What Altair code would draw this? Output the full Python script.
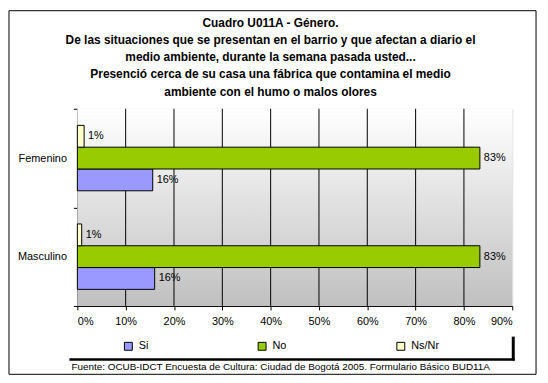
import altair as alt
import pandas as pd

categories = ["Femenino", "Masculino"]
series = ["Si", "No", "Ns/Nr"]
si_values = [0.156, 0.160]
no_values = [0.833, 0.833]
nsnr_values = [0.014, 0.009]
series_colors = ["#9999ff", "#99cc00", "#ffffcc"]
x_ticks = [0, 0.1, 0.2, 0.3, 0.4, 0.5, 0.6, 0.7, 0.8, 0.9]
title_lines = [
    "Cuadro U011A - Género.",
    "De las situaciones que se presentan en el barrio y que afectan a diario el",
    "medio ambiente, durante la semana pasada usted...",
    "Presenció cerca de su casa una fábrica que contamina el medio",
    "ambiente con el humo o malos olores",
]
footer = "Fuente: OCUB-IDCT Encuesta de Cultura: Ciudad de Bogotá 2005. Formulario Básico BUD11A"

rows = []
for i, c in enumerate(categories):
    rows.append({"cat": c, "serie": "Si", "val": si_values[i]})
    rows.append({"cat": c, "serie": "No", "val": no_values[i]})
    rows.append({"cat": c, "serie": "Ns/Nr", "val": nsnr_values[i]})
df = pd.DataFrame(rows)

FONT = "Liberation Sans"
W, H = 439, 199
xscale = alt.Scale(domain=[0, 0.9], nice=False)

one = pd.DataFrame({"a": [0]})
deco = alt.Chart(one)

background = deco.mark_rect(
    color=alt.LinearGradient(gradient="linear", x1=0, y1=0, x2=0, y2=1,
                             stops=[alt.GradientStop(color="#ffffff", offset=0),
                                    alt.GradientStop(color="#c0c0c0", offset=1)])
).encode(x=alt.value(0), x2=alt.value(W), y=alt.value(0), y2=alt.value(H))

grid = alt.Chart(pd.DataFrame({"t": x_ticks[1:-1]})).mark_rule(
    color="black", strokeWidth=1).encode(
    x=alt.X("t:Q", scale=xscale), y=alt.value(0), y2=alt.value(H))

base = alt.Chart(df)

bars = base.mark_bar(stroke="black", strokeWidth=1).encode(
    x=alt.X("val:Q", scale=xscale,
            axis=alt.Axis(values=x_ticks, format=".0%", title=None, grid=False,
                          domainColor="black",
                          tickColor="black", tickSize=4, labelPadding=6,
                          labelFont=FONT, labelFontSize=11, labelColor="black")),
    y=alt.Y("cat:N", sort=categories,
            scale=alt.Scale(paddingInner=0, paddingOuter=0),
            axis=alt.Axis(title=None, domainColor="black", tickColor="black",
                          tickBand="extent", tickSize=4, labelPadding=7,
                          labelFont=FONT, labelFontSize=11, labelColor="black")),
    yOffset=alt.YOffset("serie:N", sort=["Ns/Nr", "No", "Si"],
                        scale=alt.Scale(paddingInner=0, paddingOuter=0.76)),
    color=alt.Color("serie:N", sort=series,
                    scale=alt.Scale(domain=series, range=series_colors),
                    legend=alt.Legend(orient="none", legendX=46, legendY=234,
                                      direction="horizontal", title=None,
                                      symbolType="square", symbolSize=64,
                                      symbolStrokeColor="black", symbolStrokeWidth=1,
                                      symbolOpacity=1,
                                      columnPadding=108, labelOffset=5,
                                      labelFont=FONT, labelFontSize=11,
                                      labelColor="black")),
)

labels = base.mark_text(align="left", baseline="middle", dx=4, font=FONT,
                        fontSize=11, color="black").encode(
    x=alt.X("val:Q", scale=xscale),
    y=alt.Y("cat:N", sort=categories),
    yOffset=alt.YOffset("serie:N", sort=["Ns/Nr", "No", "Si"]),
    text=alt.Text("val:Q", format=".0%"),
)

frame = deco.mark_rect(fill=None, stroke="black", strokeWidth=1).encode(
    x=alt.value(-69), x2=alt.value(463), y=alt.value(-99), y2=alt.value(268))

shadow_v = deco.mark_rule(color="black", strokeWidth=3).encode(
    x=alt.value(440), y=alt.value(230), y2=alt.value(254))
shadow_h = deco.mark_rule(color="black", strokeWidth=2.5).encode(
    x=alt.value(-8), x2=alt.value(441.5), y=alt.value(253))

foot = deco.mark_text(text=footer, align="left", baseline="middle", font=FONT,
                      fontSize=10, color="black").encode(
    x=alt.value(-6), y=alt.value(261))

title = deco.mark_text(text=title_lines, align="center", baseline="top", font=FONT,
                       fontSize=12, fontWeight="bold", lineHeight=17.3,
                       color="black").encode(
    x=alt.value(195), y=alt.value(-91.5))

chart = alt.layer(background, grid, frame, bars, labels, shadow_v, shadow_h,
                  foot, title).properties(
    width=W, height=H,
    autosize=alt.AutoSizeParams(type="none"),
    padding={"left": 70, "top": 100, "right": 28, "bottom": 72},
).configure_view(
    stroke="#808080", strokeWidth=1,
).configure(background="white")

chart.save("out.html", embed_options={"renderer": "svg", "actions": False})
